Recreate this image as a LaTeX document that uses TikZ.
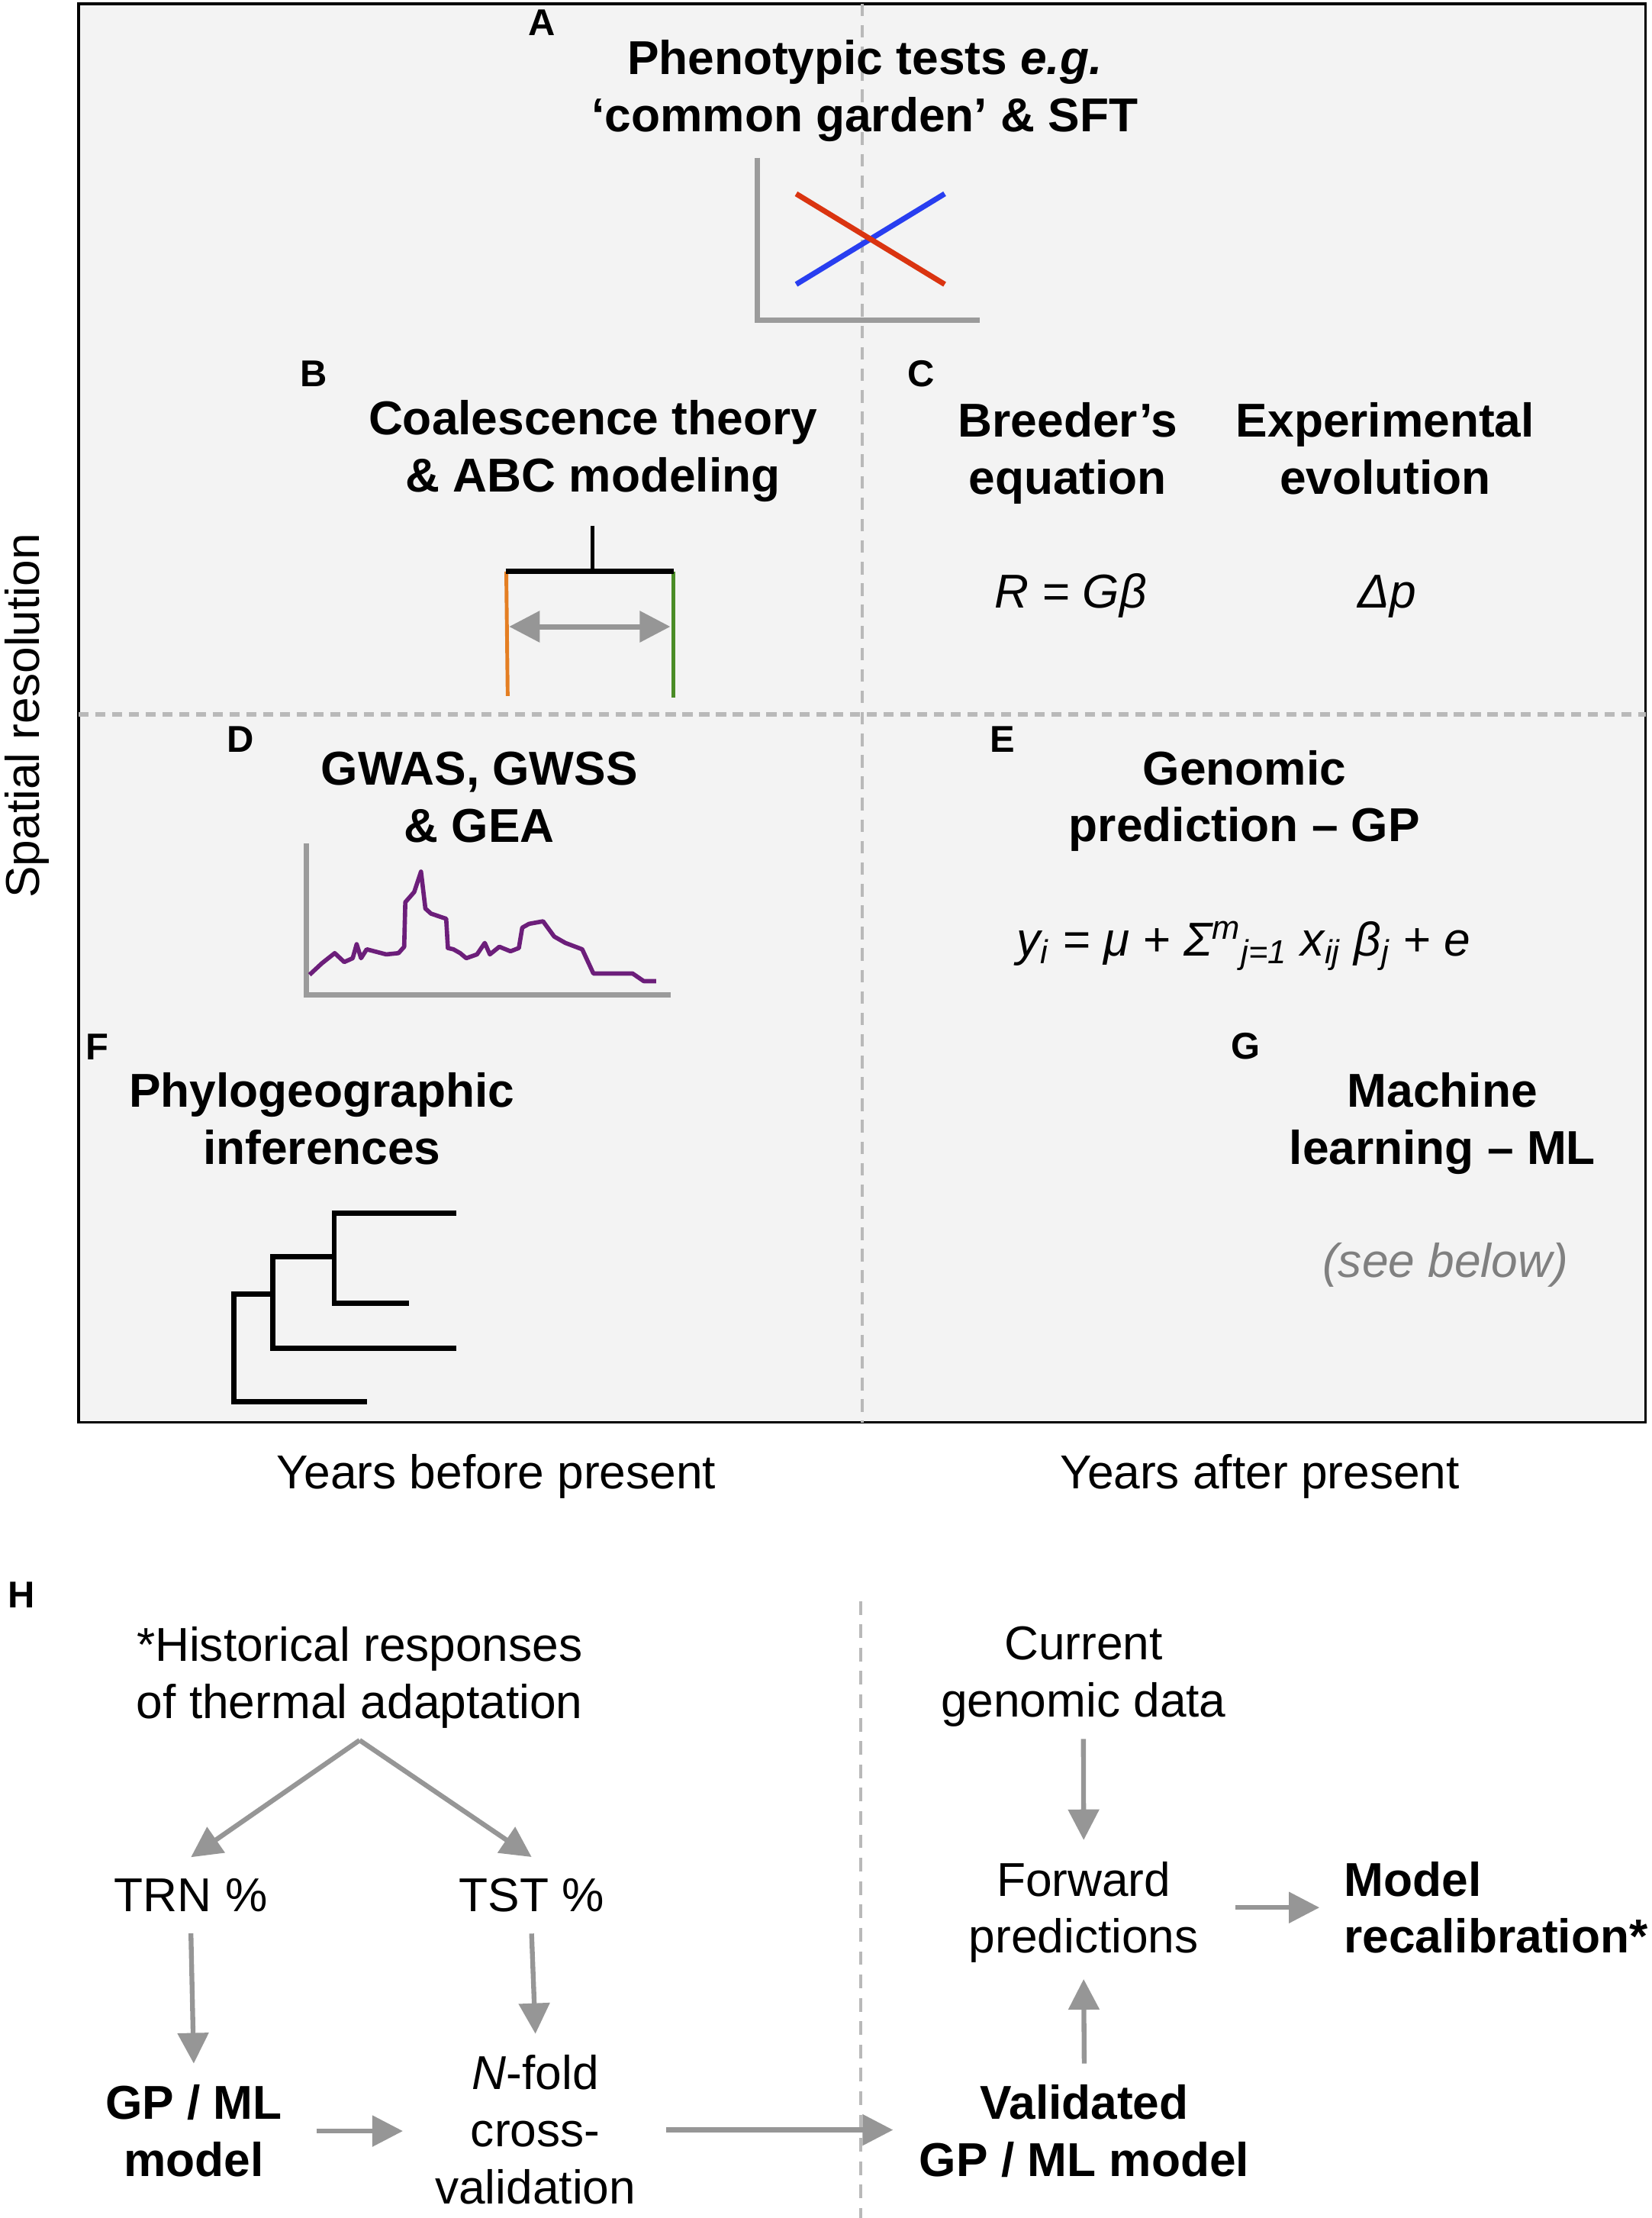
\documentclass[tikz,border=0pt]{standalone}
\usepackage{fontspec}
\setmainfont{Liberation Sans}
\usetikzlibrary{arrows.meta}

\definecolor{panelbg}{RGB}{243,243,243}
\definecolor{divgray}{RGB}{185,185,185}
\definecolor{arrowgray}{RGB}{150,150,150}
\definecolor{axisgray}{RGB}{155,155,155}
\definecolor{notegray}{RGB}{128,128,128}
\definecolor{normred}{RGB}{218,52,16}
\definecolor{normblue}{RGB}{40,62,240}
\definecolor{lineorange}{RGB}{228,126,34}
\definecolor{linegreen}{RGB}{74,140,38}
\definecolor{scanpurple}{RGB}{108,30,122}

\tikzset{
  bigtri/.tip={Triangle[length=11.4pt,width=11.3pt]},
  txt/.style={inner sep=0pt, font=\fontsize{17.7}{21.3}\selectfont},
  title/.style={txt, align=center, anchor=north, font=\fontsize{17.7}{21.3}\selectfont\bfseries},
  panel/.style={inner sep=0pt, anchor=base, font=\fontsize{13.9}{16}\selectfont\bfseries},
  stage/.style={txt, align=center, anchor=north, outer sep=8pt},
  keystage/.style={stage, font=\fontsize{17.7}{21.3}\selectfont\bfseries},
  flow/.style={draw=arrowgray, line width=1.8pt, -bigtri},
  plotaxis/.style={draw=axisgray, line width=2pt},
  branch/.style={line width=1.9pt},
}

\begin{document}
\begin{tikzpicture}[x=0.018527cm, y=-0.018527cm]
    \useasboundingbox (0,0) rectangle (1168,1568);
    %% Draw the panel and its quadrants
    \draw[line width=1.1pt, fill=panelbg] (55.7,2.5) rectangle (1163.6,1005.5);
    \draw[divgray, line width=1.1pt, dash pattern=on 4.7pt off 3.3pt] (609.5,2.5) -- (609.5,1005.5);
    \draw[divgray, line width=1.6pt, dash pattern=on 3.75pt off 2.5pt] (55.7,505) -- (1163.6,505);
    \draw[divgray, line width=1.1pt, dash pattern=on 5.1pt off 3.6pt] (608.5,1131.8) -- (608.5,1568);

    %% Draw the panel letters
    \node[panel] (la) at (383,25.2) {A};
    \node[panel] (lb) at (222,273.5) {B};
    \node[panel] (lc) at (651.5,273.5) {C};
    \node[panel] (ld) at (170,531.6) {D};
    \node[panel] (le) at (709,531.6) {E};
    \node[panel] (lf) at (69,749) {F};
    \node[panel] (lg) at (881,748.5) {G};
    \node[panel] (lh) at (15,1136.4) {H};

    %% Draw the panel titles
    \node[title] (phen) at (611.5,28) {Phenotypic tests \textit{e.g.}\\‘common garden’ \& SFT};
    \node[title] (coal) at (419.3,282.5) {Coalescence theory\\\& ABC modeling};
    \node[title] (breed) at (755,284) {Breeder’s\\equation};
    \node[title] (expevo) at (979.5,284) {Experimental\\evolution};
    \node[title] (gwas) at (339,531) {GWAS, GWSS\\\& GEA};
    \node[title] (genpred) at (880,530) {Genomic\\prediction -- GP};
    \node[title] (phylo) at (227.6,758) {Phylogeographic\\inferences};
    \node[title] (mlearn) at (1020,758) {Machine\\learning -- ML};

    %% Draw the equations
    \node[txt, anchor=base, font=\fontsize{17.7}{21.3}\selectfont\itshape] (breedeq) at (757,429.6) {R = Gβ};
    \node[txt, anchor=base, font=\fontsize{17.7}{21.3}\selectfont\itshape] (evoeq) at (981,429.6) {Δp};
    \node[txt, anchor=base, font=\fontsize{17.7}{21.3}\selectfont\itshape] (gpeq) at (879.4,675.6)
      {y\textsubscript{i} = μ + Σ\textsuperscript{m}\textsubscript{j=1} x\textsubscript{ij} β\textsubscript{j} + e};
    \node[txt, anchor=base, text=notegray, font=\fontsize{17.7}{21.3}\selectfont\itshape] (seebelow) at (1022,903) {(see below)};

    %% Draw the axis labels
    \node[txt, anchor=base, rotate=90] (spatial) at (27.7,506) {Spatial resolution};
    \node[txt, anchor=base] (before) at (351,1052.3) {Years before present};
    \node[txt, anchor=base] (after) at (890.8,1052.3) {Years after present};

    %% Reaction norms (A)
    \draw[plotaxis] (535.5,111.5) -- (535.5,226.3) -- (692.8,226.3);
    \draw[normblue, line width=2pt] (563,201) -- (668,137);
    \draw[normred, line width=2pt] (563,137) -- (668,201);

    %% Coalescent (B)
    \draw[line width=1.3pt] (419,371.5) -- (419,404);
    \draw[lineorange, line width=1.4pt] (358,404) -- (359,492);
    \draw[linegreen, line width=1.4pt] (476,404) -- (476,493);
    \draw[line width=2.1pt] (357.5,404) -- (476.5,404);
    \draw[arrowgray, line width=2pt, bigtri-bigtri] (360,443) -- (474,443);

    %% Genome scan (D)
    \draw[plotaxis] (216.5,596.4) -- (216.5,703.4) -- (474.2,703.4);
    \draw[scanpurple, line width=1.6pt, line join=round] plot coordinates {
      (218.9,689.1) (227.6,681.0) (236.7,673.8) (243.4,680.1) (249.4,677.4)
      (252.2,667.5) (255.3,677.4) (259.3,671.1) (273.1,674.7) (281.8,673.8)
      (285.8,669.3) (286.6,637.8) (292.9,630.6) (297.7,616.2) (300.8,642.3)
      (304.8,645.9) (315.5,649.5) (316.7,670.2) (320.6,671.1) (325.4,673.8)
      (329.7,677.4) (337.3,674.7) (342.8,666.6) (346.4,674.7) (353.1,669.3)
      (361.0,672.5) (366.9,670.2) (369.3,655.8) (374.1,653.1) (384.0,651.3)
      (391.9,662.1) (399.8,666.6) (411.7,671.1) (419.6,688.2) (447.3,688.2)
      (455.2,693.6) (463.9,693.6)};

    %% Phylogeny (F)
    \draw[branch] (259.3,990.8) -- (165.5,990.8) -- (165.5,914.9) -- (192.8,914.9);
    \draw[branch] (322.6,953) -- (192.8,953) -- (192.8,888.4) -- (236.3,888.4);
    \draw[branch] (322.6,857.8) -- (236.3,857.8) -- (236.3,921.4) -- (289,921.4);

    %% Draw the workflow nodes (H)
    \node[stage] (hist) at (254.3,1134.8) {*Historical responses\\of thermal adaptation};
    \node[stage, anchor=base] (trn) at (135,1351.4) {TRN \%};
    \node[stage, anchor=base] (tst) at (375.9,1351.4) {TST \%};
    \node[keystage] (gpml) at (137,1458.8) {GP / ML\\model};
    \node[stage] (nfold) at (378.6,1437.8) {\textit{N}-fold\\cross-\\validation};
    \node[stage] (cur) at (766.1,1134.8) {Current\\genomic data};
    \node[stage] (fwd) at (766.3,1300.8) {Forward\\predictions};
    \node[keystage] (valid) at (766.7,1458.8) {Validated\\GP / ML model};
    \node[keystage, anchor=north west, align=left] (recal) at (935.3,1300.8) {Model\\recalibration*};

    %% Draw the edges
    \begin{scope}[every path/.style={flow}]
      \draw ([yshift=3.5pt]hist.south) -- (trn.north);
      \draw ([yshift=3.5pt]hist.south) -- (tst.north);
      \draw (trn.south) -- (gpml.north);
      \draw (tst.south) -- (nfold.north);
      \draw[shorten <=5pt, shorten >=4pt] (gpml.east) -- (gpml.east -| nfold.west);
      \draw[shorten <=3.3pt, shorten >=1.8pt] (nfold.east) -- (nfold.east -| valid.west);
      \draw ([yshift=3.5pt]cur.south) -- (fwd.north);
      \draw[shorten >=-2pt] (valid.north) -- (fwd.south);
      \draw[shorten <=5.8pt, shorten >=1.2pt] (fwd.east |- recal.west) -- (recal.west);
    \end{scope}
  \end{tikzpicture}
\end{document}
